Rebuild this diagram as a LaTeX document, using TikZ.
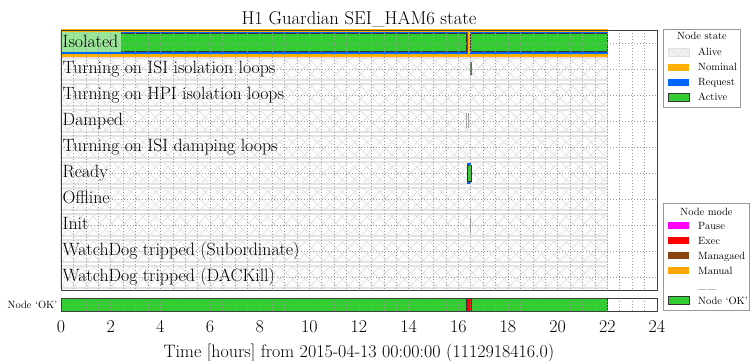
\documentclass[tikz,border=0pt]{standalone}
\usetikzlibrary{patterns.meta}
\begin{document}

\definecolor{nominal}{HTML}{FFB000}
\definecolor{request}{HTML}{0066FF}
\definecolor{active}{HTML}{33CC33}
\definecolor{pausec}{HTML}{FF00FF}
\definecolor{execc}{HTML}{FF0000}
\definecolor{managed}{HTML}{8B4513}
\definecolor{manual}{HTML}{FFA500}
\definecolor{hilite}{HTML}{99E699}
\definecolor{thinact}{HTML}{5A785A}

\tikzset{
  big/.style={font=\fontsize{17.8}{20}\selectfont, inner sep=0pt},
  axisfont/.style={font=\fontsize{18}{20}\selectfont, inner sep=0pt},
  titlefont/.style={font=\fontsize{18.6}{21}\selectfont, inner sep=0pt},
  small/.style={font=\fontsize{10.5}{12}\selectfont, inner sep=0pt},
  gridline/.style={black!40, line width=0.5pt, dash pattern=on 1pt off 2pt},
  aliveedge/.style={draw=gray!22, line width=1.2pt},
  activebox/.style={fill=active, draw=black!80, line width=0.7pt},
  frame/.style={draw=black!75, line width=0.9pt},
  legframe/.style={draw=gray!80, line width=0.8pt, fill=white},
  swatch/.style={line width=0.6pt},
  hatchA/.style={pattern={Lines[angle=45,distance=8.8pt,line width=0.7pt]}, pattern color=gray!22},
  hatchB/.style={pattern={Lines[angle=-45,distance=8.8pt,line width=0.7pt]}, pattern color=gray!22},
}

\begin{tikzpicture}[x=1pt,y=-1pt]
\useasboundingbox (0,0) rectangle (750,360);
\fill[white] (0,0) rectangle (750,360);

% title
\node[titlefont, anchor=base] (title) at (359,24.5) {H1 Guardian SEI\_HAM6 state};

% time axis: hours from 0 to 24
\begin{scope}[xshift=61pt, x=24.833pt]
  % "Alive" background bars, one per state row
  \foreach \i in {0,...,9}{
    \pgfmathsetmacro\yt{30+26*\i+2}
    \pgfmathsetmacro\yb{30+26*\i+24}
    \fill[gray!2] (0,\yt) rectangle (22,\yb);
    \fill[hatchA] (0,\yt) rectangle (22,\yb);
    \fill[hatchB] (0,\yt) rectangle (22,\yb);
    \draw[aliveedge] (0,\yt) rectangle (22,\yb);
  }

  % Isolated
  \fill[nominal] (0,28.5) rectangle (22.04,56.5);
  \fill[request] (0,31.5) rectangle (16.38,54);
  \fill[request] (16.45,31.5) rectangle (22.02,54);
  \draw[activebox] (0,33.4) rectangle (16.34,51.6);
  \draw[activebox] (16.5,33.4) rectangle (22,51.6);
  \fill[hilite] (0,32) rectangle (2.43,52);

  % Turning on ISI isolation loops
  \fill[thinact] (16.48,61.7) rectangle (16.54,75);

  % Damped
  \draw[gray!70, line width=0.8pt] (16.34,113) -- (16.34,128);
  \draw[gray!70, line width=0.8pt] (16.40,113) -- (16.40,128);

  % Ready
  \fill[request] (16.33,162.7) rectangle (16.53,184);
  \draw[activebox] (16.355,165.5) rectangle (16.505,181.5);

  % Init
  \draw[gray!75, line width=0.8pt] (16.5,218) -- (16.5,233);

  % grid
  \foreach \k in {1,...,47}
    \draw[gridline] (\k/2,30) -- (\k/2,290.5);
  \foreach \i in {0,...,9}
    \draw[gridline] (0,43+26*\i) -- (24,43+26*\i);

  \draw[frame] (0,30) rectangle (24,290.5);

  % node OK strip
  \draw[activebox] (0,298) rectangle (22,311);
  \draw[fill=execc, draw=black!80, line width=0.7pt] (16.34,298) rectangle (16.54,311);
  \foreach \k in {1,...,47}
    \draw[gridline] (\k/2,298) -- (\k/2,311);
  \draw[frame] (0,298) rectangle (24,311);

  % tick labels
  \foreach \t in {0,2,...,24}
    \node[axisfont, anchor=base] (tick\t) at (\t,332) {\t};
\end{scope}

% state labels
\foreach \txt [count=\i from 0] in {{Isolated},{Turning on ISI isolation loops},{Turning on HPI isolation loops},{Damped},{Turning on ISI damping loops},{Ready},{Offline},{Init},{WatchDog tripped (Subordinate)},{WatchDog tripped (DACKill)}}
  \node[big, anchor=base west] (lab\i) at (62.5,47+26*\i) {\txt};

\node[small, anchor=east] (oklab) at (57.5,304.5) {Node ‘OK’};

\node[axisfont, anchor=base] (xlab) at (359,357.5) {Time [hours] from 2015-04-13 00:00:00 (1112918416.0)};

% legend: node state
\draw[legframe] (663.3,29.7) rectangle (740.7,107.7);
\node[small, anchor=base] (sttitle) at (702,39.5) {Node state};
\fill[gray!12] (668,48.5) rectangle (689,56);
\fill[hatchA] (668,48.5) rectangle (689,56);
\fill[hatchB] (668,48.5) rectangle (689,56);
\draw[gray!25, swatch] (668,48.5) rectangle (689,56);
\node[small, anchor=base west] (stalive) at (698,55.5) {Alive};
\fill[nominal] (668,63.5) rectangle (689,71);
\node[small, anchor=base west] (stnom) at (698,70.5) {Nominal};
\fill[request] (668,78.5) rectangle (689,86);
\node[small, anchor=base west] (streq) at (698,85.5) {Request};
\draw[activebox] (668,93.5) rectangle (689,101);
\node[small, anchor=base west] (stact) at (698,100.5) {Active};

% legend: node mode
\draw[legframe] (663.3,203.3) rectangle (749.5,310);
\node[small, anchor=base] (mdtitle) at (706.5,215) {Node mode};
\fill[pausec] (668,221.5) rectangle (689,229);
\node[small, anchor=base west] (mdpause) at (698,229) {Pause};
\fill[execc] (668,236.5) rectangle (689,244);
\node[small, anchor=base west] (mdexec) at (698,244) {Exec};
\fill[managed] (668,251.5) rectangle (689,259);
\node[small, anchor=base west] (mdman) at (698,259) {Managaed};
\fill[manual] (668,266.5) rectangle (689,274);
\node[small, anchor=base west] (mdmanual) at (698,274) {Manual};
\node[small, anchor=base west] (mdblank) at (698,288.5) {\_\,\_};
\draw[activebox] (668,296.5) rectangle (689,304);
\node[small, anchor=base west] (mdok) at (698,304) {Node ‘OK’};
\end{tikzpicture}
\end{document}
